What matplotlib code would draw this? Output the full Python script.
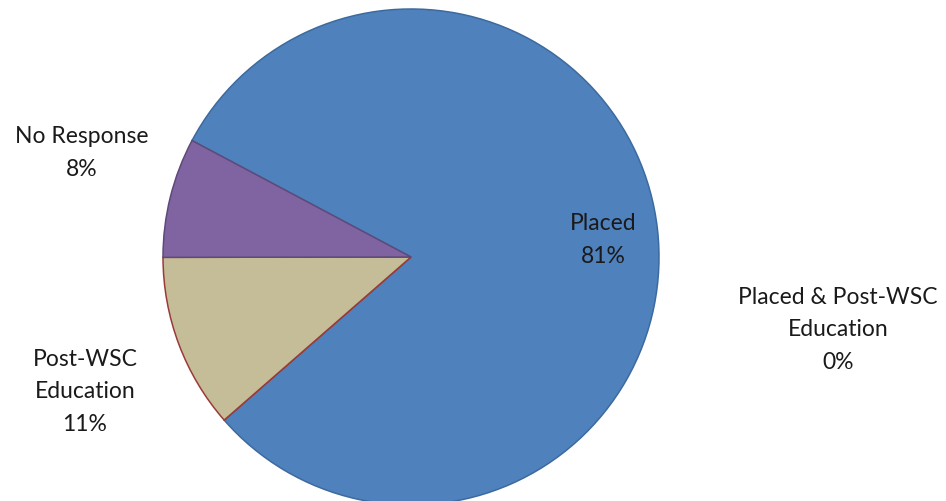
import matplotlib
matplotlib.use('Agg')
import matplotlib.pyplot as plt

# share of respondents (%)
labels = ['Placed', 'Placed & Post-WSC\nEducation', 'Post-WSC\nEducation', 'No Response']
shares = [80.8, 0.0, 11.4, 7.8]
colors = ['#4F81BD', '#C0504D', '#C4BD97', '#8064A2']
edges = ['#3D6A9E', '#9B3B38', '#9B3B38', '#5E4A7A']

# label centres, in units of the pie radius
label_pos = [(0.774, 0.073), (1.722, -0.290), (-1.315, -0.540), (-1.327, 0.423)]

plt.rcParams['font.family'] = ['Lato', 'DejaVu Sans']

fig = plt.figure(figsize=(9.46, 5.02), dpi=100)
ax = fig.add_axes([163/946, -4/502, 496/946, 496/502])

wedges, texts = ax.pie(shares, colors=colors, startangle=152, counterclock=False,
                       labels=[l + '\n' + str(round(s)) + '%' for l, s in zip(labels, shares)],
                       wedgeprops=dict(linewidth=1.1),
                       textprops=dict(fontsize=16.5, color='#1a1a1a', ha='center', va='center',
                                      linespacing=1.68))
for w, e in zip(wedges, edges):
    w.set_edgecolor(e)
for t, p in zip(texts, label_pos):
    t.set_position(p)
    t.set_ha('center')
    t.set_va('center')

ax.set_xlim(-1, 1)
ax.set_ylim(-1, 1)
ax.set_aspect('equal')
ax.axis('off')

fig.savefig('out.png', dpi=100)
